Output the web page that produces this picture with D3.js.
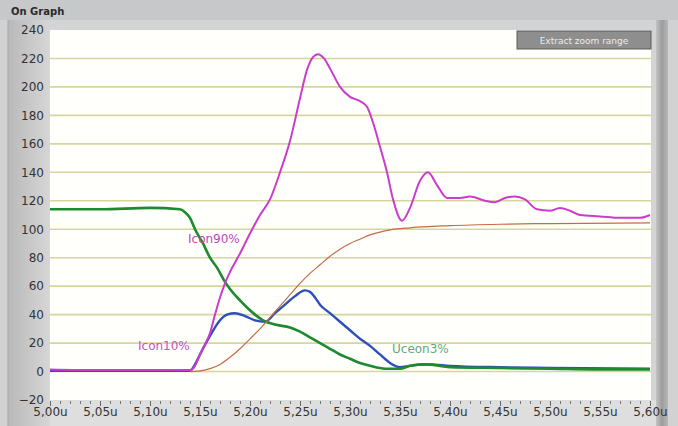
<!DOCTYPE html>
<html>
<head>
<meta charset="utf-8">
<script src="https://cdn.jsdelivr.net/npm/d3@7"></script>
<style>
  body { margin: 0; background: #d2d2d2; }
  svg { display: block; font-family: 'DejaVu Sans', sans-serif; }
</style>
</head>
<body>
<svg id="chart" width="678" height="426"></svg>
<script>
// time axis (u) and tick labels
const xTicks = [5.00, 5.05, 5.10, 5.15, 5.20, 5.25, 5.30, 5.35, 5.40, 5.45, 5.50, 5.55, 5.60];
const yTicks = [-20, 0, 20, 40, 60, 80, 100, 120, 140, 160, 180, 200, 220, 240];

// Icon (magenta)
const iconT = [5.00, 5.05, 5.10, 5.14, 5.145, 5.15, 5.155, 5.16, 5.165, 5.17, 5.175, 5.18, 5.19, 5.20, 5.21, 5.22,
  5.23, 5.24, 5.25, 5.257, 5.263, 5.268, 5.274, 5.28, 5.29, 5.30, 5.31, 5.317, 5.323, 5.33, 5.337, 5.343, 5.352,
  5.36, 5.37, 5.378, 5.387, 5.397, 5.41, 5.42, 5.435, 5.445, 5.455, 5.465, 5.475, 5.487, 5.50, 5.51, 5.52,
  5.53, 5.55, 5.57, 5.59, 5.60];
const iconV = [1.5, 1, 1, 1, 4, 12, 19, 27, 40, 52, 62, 70, 83, 97, 110, 121,
  140, 162, 192, 212, 221, 223, 220, 213, 200, 193, 190, 186, 175, 158, 140, 121, 106,
  115, 134, 140, 131, 122, 122, 123, 120, 119, 122, 123, 121, 114, 113, 115, 113,
  110, 109, 108, 108, 110];

// Uceon (green)
const uceT = [5.00, 5.05, 5.10, 5.13, 5.135, 5.14, 5.145, 5.153, 5.16, 5.167, 5.175, 5.18, 5.19, 5.197, 5.205,
  5.213, 5.225, 5.24, 5.25, 5.26, 5.27, 5.28, 5.29, 5.30, 5.31, 5.32, 5.335, 5.35, 5.36, 5.375, 5.39, 5.40,
  5.45, 5.50, 5.55, 5.60];
const uceV = [114, 114, 115, 114, 112, 108, 100, 90, 80, 73, 63, 58, 50, 45, 40,
  36, 33, 31, 28, 24, 20, 16, 12, 9, 6, 4, 2, 2, 4, 5, 4, 3,
  2.5, 2, 1.5, 1.5];

// second current (blue)
const blueT = [5.00, 5.14, 5.145, 5.15, 5.16, 5.17, 5.177, 5.185, 5.195, 5.205, 5.215, 5.225, 5.235, 5.245,
  5.255, 5.26, 5.265, 5.27, 5.28, 5.29, 5.30, 5.31, 5.32, 5.33, 5.34, 5.35, 5.36, 5.38, 5.40, 5.45, 5.50, 5.60];
const blueV = [0.5, 0.5, 5, 12, 25, 36, 40, 41, 39, 36, 35, 41, 47, 53,
  57, 56, 52, 47, 41, 35, 29, 23, 18, 12, 6, 3, 4, 5, 4, 3, 2.5, 2];

// reference (brown)
const refT = [5.14, 5.15, 5.16, 5.17, 5.18, 5.19, 5.20, 5.21, 5.22, 5.23, 5.24, 5.25, 5.26, 5.27, 5.28, 5.29,
  5.30, 5.31, 5.32, 5.33, 5.34, 5.36, 5.40, 5.45, 5.50, 5.60];
const refV = [0, 0.5, 2, 5, 10, 16, 23, 30, 38, 46, 54, 62, 69, 75, 81, 86,
  90, 93, 96, 98, 99.5, 101, 102.5, 103.5, 104, 104.5];

// cursor labels
const cursorNames = ['Icon90%', 'Icon10%', 'Uceon3%'];
const cursorT = [5.138, 5.088, 5.342];
const cursorV = [90, 15, 13];

const pLeft = 50, pRight = 651, pTop = 30, pBottom = 400;
const svg = d3.select('#chart');

const defs = svg.append('defs');
const lg = defs.append('linearGradient').attr('id', 'leftStrip');
lg.append('stop').attr('offset', '0%').attr('stop-color', '#b9b9b9');
lg.append('stop').attr('offset', '100%').attr('stop-color', '#d6d6d6');
const rg = defs.append('linearGradient').attr('id', 'rightBar');
rg.append('stop').attr('offset', '0%').attr('stop-color', '#c4c4c4');
rg.append('stop').attr('offset', '50%').attr('stop-color', '#9c9c9c');
rg.append('stop').attr('offset', '100%').attr('stop-color', '#b8b8b8');

// frame
svg.append('rect').attr('width', 678).attr('height', 426).attr('fill', '#d2d2d2');
svg.append('rect').attr('width', 678).attr('height', 20).attr('fill', '#c6c8ca');
svg.append('text').text('On Graph')
  .attr('x', 11).attr('y', 15)
  .attr('font-size', '10px').attr('font-weight', 'bold').attr('fill', '#2a2a2a');
svg.append('rect').attr('x', 8).attr('y', 20).attr('width', 660).attr('height', 406).attr('fill', '#d4d4d4');
svg.append('rect').attr('x', 8).attr('y', 20).attr('width', pLeft - 8).attr('height', 406).attr('fill', 'url(#leftStrip)');
svg.append('line').attr('x1', 8).attr('x2', 8).attr('y1', 20).attr('y2', 426).attr('stroke', '#a8a8a8');
svg.append('rect').attr('x', 656).attr('y', 20).attr('width', 12).attr('height', 406).attr('fill', 'url(#rightBar)');
svg.append('rect').attr('x', pLeft).attr('y', pBottom).attr('width', 606).attr('height', 26).attr('fill', '#dedede');

const x = d3.scaleLinear().domain([5.00, 5.60]).range([pLeft, 650]);
const y = d3.scaleLinear().domain([-20, 240]).range([pBottom, pTop]);

// plot background
svg.append('rect')
  .attr('x', pLeft).attr('y', pTop)
  .attr('width', pRight - pLeft).attr('height', pBottom - pTop)
  .attr('fill', '#fffffc');

// horizontal grid
svg.append('g')
  .selectAll('line')
  .data(yTicks.filter(d => d > -20 && d < 240))
  .join('line')
  .attr('x1', pLeft).attr('x2', pRight)
  .attr('y1', d => y(d)).attr('y2', d => y(d))
  .attr('stroke', '#d6d69c')
  .attr('stroke-width', 1.6);

// y axis labels
const yAxis = d3.axisLeft(y).tickValues(yTicks).tickSize(0).tickPadding(6);
const yg = svg.append('g').attr('transform', 'translate(' + pLeft + ',0)').call(yAxis);
yg.select('.domain').remove();
yg.selectAll('text').attr('font-size', '12px').attr('fill', '#333').attr('font-family', 'DejaVu Sans');

// x axis: minor ticks then labels
const minor = d3.range(0, 61).map(i => 5.00 + i * 0.01);
const xMinor = d3.axisBottom(x).tickValues(minor).tickSize(3).tickFormat('');
const xm = svg.append('g').attr('transform', 'translate(0,' + (pBottom + 1) + ')').call(xMinor);
xm.select('.domain').remove();
xm.selectAll('line').attr('stroke', '#777');

const xAxis = d3.axisBottom(x).tickValues(xTicks).tickSize(5)
  .tickFormat(d => d3.format('.2f')(d).replace('.', ',') + 'u');
const xg = svg.append('g').attr('transform', 'translate(0,' + (pBottom + 1) + ')').call(xAxis);
xg.select('.domain').remove();
xg.selectAll('line').attr('stroke', '#666');
xg.selectAll('text').attr('font-size', '12px').attr('fill', '#333').attr('font-family', 'DejaVu Sans')
  .attr('dy', '0.6em');

// traces
const line = d3.line().x(d => x(d[0])).y(d => y(d[1])).curve(d3.curveMonotoneX);
const plot = svg.append('g');

function drawTrace(ts, vs, color, w) {
  plot.append('path')
    .datum(d3.zip(ts, vs))
    .attr('fill', 'none')
    .attr('stroke', color)
    .attr('stroke-width', w)
    .attr('stroke-linejoin', 'round')
    .attr('d', line);
}

drawTrace(blueT, blueV, '#2d4fbe', 2.4);
drawTrace(uceT, uceV, '#1d8a30', 2.6);
drawTrace(refT, refV, '#c66a48', 1.2);
drawTrace(iconT, iconV, '#cc3ccc', 2);

// cursor labels
const cursorColors = ['#b84ab8', '#c055c0', '#62a882'];
svg.append('g').selectAll('text')
  .data(cursorNames)
  .join('text')
  .text(d => d)
  .attr('x', (d, i) => x(cursorT[i]))
  .attr('y', (d, i) => y(cursorV[i]))
  .attr('font-size', '12px')
  .attr('fill', (d, i) => cursorColors[i]);

// button
svg.append('rect')
  .attr('x', 517).attr('y', 31).attr('width', 134).attr('height', 18)
  .attr('fill', '#8e8e8e').attr('stroke', '#5a5a5a');
svg.append('text').text('Extract zoom range')
  .attr('x', 584).attr('y', 44)
  .attr('text-anchor', 'middle')
  .attr('font-size', '9px')
  .attr('fill', '#ececec');
</script>
</body>
</html>
